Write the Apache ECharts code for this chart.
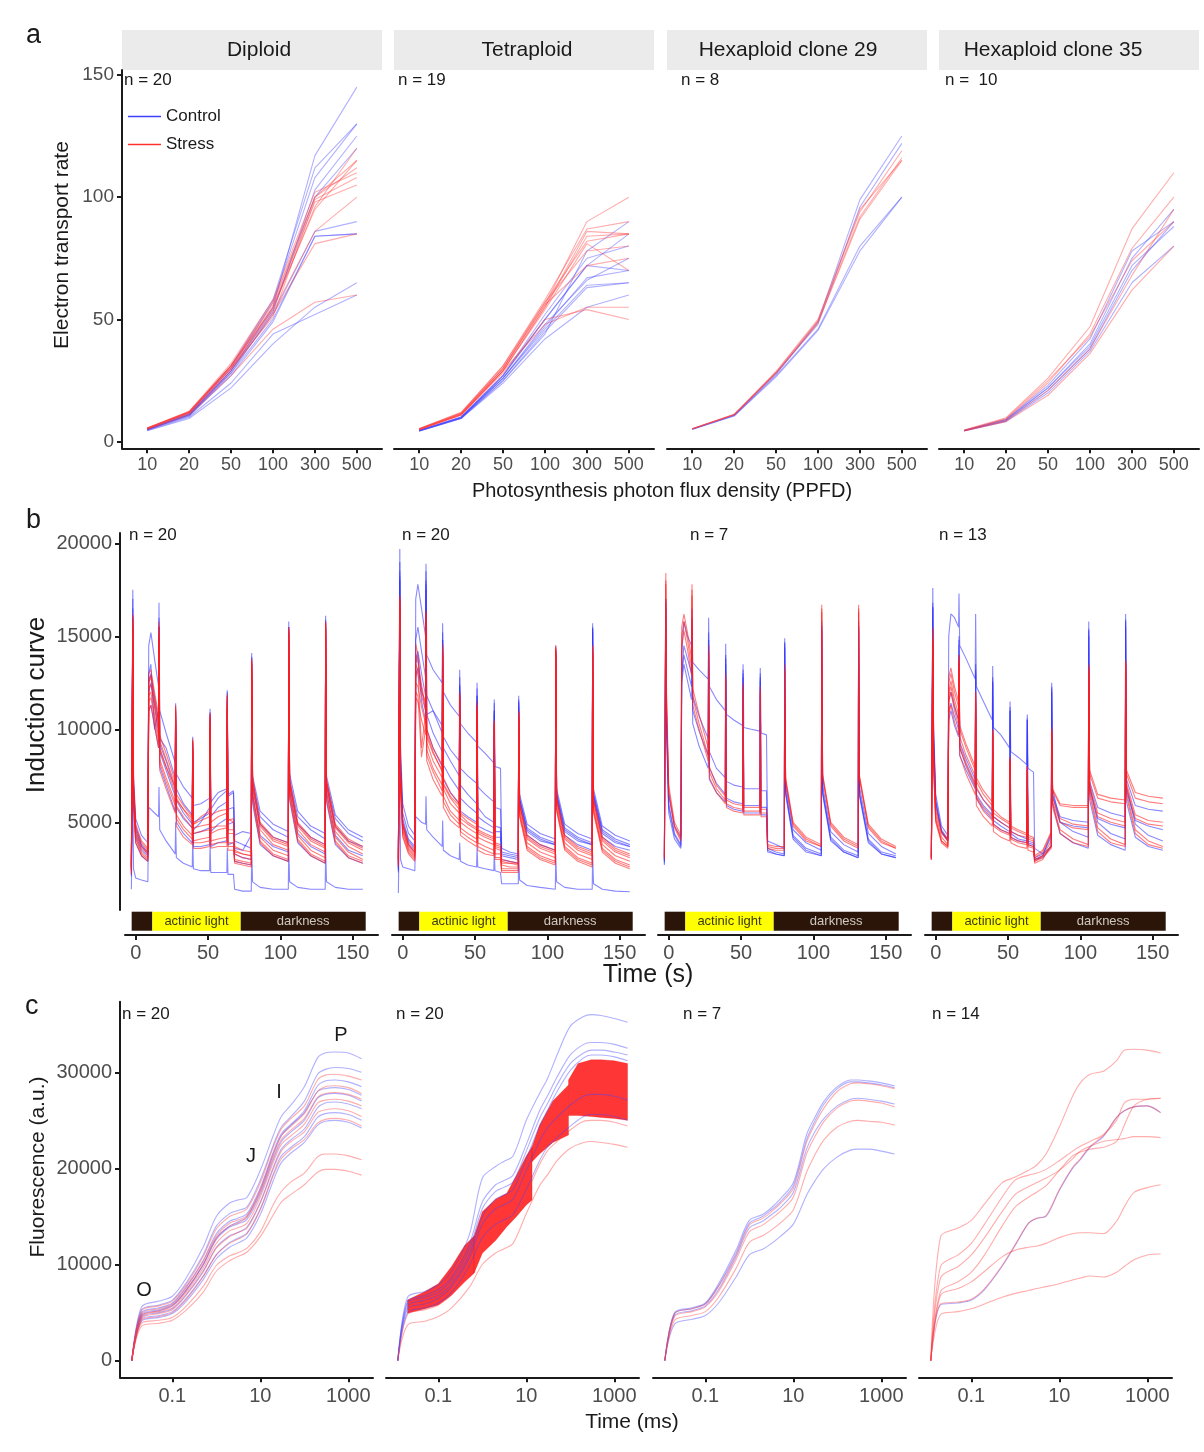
<!DOCTYPE html>
<html><head><meta charset="utf-8">
<script src="https://cdn.jsdelivr.net/npm/echarts@6/dist/echarts.min.js"></script>
<style>html,body{margin:0;padding:0;background:#fff}#c{width:1204px;height:1452px}</style>
</head><body><div id="c"></div>
<script>
// ---------------- DATA ----------------
const panelNames = ['Diploid', 'Tetraploid', 'Hexaploid clone 29', 'Hexaploid clone 35'];
const nEtr = ['n = 20', 'n = 19', 'n = 8', 'n =  10'];
const nInd = ['n = 20', 'n = 20', 'n = 7', 'n = 13'];
const nOjip = ['n = 20', 'n = 20', 'n = 7', 'n = 14'];
const ppfdLabels = ['10', '20', '50', '100', '300', '500'];
const etrTicks = [0, 50, 100, 150];
const indTicks = [5000, 10000, 15000, 20000];
const indXTicks = [0, 50, 100, 150];
const ojipTicks = [0, 10000, 20000, 30000];
const ojipXTicks = [0.1, 10, 1000];

// (a) Electron transport rate at each PPFD level
const etrDiploidControl = [
  [5.0, 11, 29, 55, 117, 145], [5.2, 11.5, 30, 57, 108, 130], [4.8, 10.5, 28, 53, 103, 125],
  [5.0, 11, 29, 52, 86, 90], [5.0, 11, 28, 50, 84, 85], [4.5, 9.5, 22, 40, 55, 65],
  [4.6, 10, 24, 44, 52, 60], [5.3, 11.5, 31, 58, 112, 130], [5.1, 11, 29, 54, 100, 120],
  [4.9, 10.5, 27, 49, 84, 85]];
const etrDiploidStress = [
  [5.5, 12, 31, 57, 100, 115], [5.6, 12.3, 32, 58, 102, 110], [5.4, 12, 30, 55, 98, 105],
  [5.5, 12, 31, 54, 96, 120], [5.3, 11.7, 30, 53, 86, 100], [5.2, 11.5, 29, 52, 81, 85],
  [5.0, 11, 27, 46, 57, 60], [5.6, 12.4, 31, 56, 100, 112], [5.4, 12, 30, 51, 99, 108],
  [5.5, 12.1, 31, 55, 95, 115]];
const etrTetraControl = [
  [4.5, 9.8, 27, 50, 72, 85], [4.6, 10, 26, 48, 66, 75], [4.4, 9.6, 25, 45, 63, 65],
  [4.7, 10.2, 27, 52, 75, 80], [4.5, 9.8, 26, 47, 67, 70], [4.3, 9.5, 24, 42, 55, 60],
  [4.6, 10, 27, 50, 72, 70], [4.5, 9.7, 26, 46, 64, 65], [4.4, 9.5, 25, 44, 78, 90]];
const etrTetraStress = [
  [5.2, 11.5, 30, 56, 90, 100], [5.4, 12, 31, 58, 87, 90], [5.0, 11, 29, 55, 84, 85],
  [5.1, 11.4, 30, 57, 82, 85], [5.2, 11.6, 30, 56, 72, 75], [5.0, 11, 29, 54, 81, 70],
  [4.9, 10.8, 28, 50, 54, 50], [5.0, 11, 29, 48, 55, 55], [5.1, 11.2, 29, 55, 86, 85],
  [5.3, 11.8, 31, 57, 78, 80]];
const etrHex29Control = [
  [5.2, 10.8, 27.5, 49, 99, 125], [5.1, 10.6, 27, 46, 80, 100],
  [5.2, 10.9, 28, 48, 96, 122], [5.0, 10.5, 26.5, 45.5, 78, 100]];
const etrHex29Stress = [
  [5.3, 11, 28.5, 49.5, 94, 119], [5.3, 11.1, 28, 48.5, 91, 115],
  [5.2, 11, 28, 49, 92, 116], [5.3, 11.2, 28.7, 50, 95, 115]];
const etrHex35Control = [
  [4.6, 9, 22, 40, 75, 95], [4.5, 8.5, 21, 38, 70, 90], [4.7, 9.2, 23, 42, 78, 90],
  [4.4, 8.3, 20, 37, 65, 80], [4.5, 8.8, 22, 39, 72, 88]];
const etrHex35Stress = [
  [4.8, 9.8, 26, 47, 87, 110], [4.6, 9.2, 24, 44, 79, 100], [4.5, 8.6, 21, 38, 68, 95],
  [4.4, 8.2, 19, 36, 62, 80], [4.7, 9.5, 25, 43, 74, 90]];

// (b) Induction curves, sampled at indTime (s)
const indTime = [-3, -2, -1.5, 0, 4, 8.4, 9, 10.5, 13, 15.8, 16.1, 16.6, 21, 27.3, 27.6, 28.1, 33, 39.1, 39.4, 39.9,
  45, 51.1, 51.4, 51.9, 57, 63, 63.3, 63.8, 67.6, 68.4, 74, 79.9, 80.2, 80.8, 86, 95, 105.5, 105.8, 106.4, 112,
  121, 131, 131.3, 131.9, 138, 147, 157];
const indDiploidControl = [
  [2600,17500,7500,5200,4300,3900,14500,15200,13800,12300,16800,11000,9800,8200,11400,7600,6900,6300,9600,5900,6000,6300,11100,6100,6600,6800,12100,6500,6700,4000,3800,3600,14100,7500,5600,4900,4500,15800,7600,5600,4800,4400,16100,7500,5400,4600,4200],
  [2200,17000,7000,4800,3800,3400,13000,13500,10000,11000,16000,9500,9000,7400,11000,6800,6000,5400,9300,5000,5200,5500,10800,5300,5800,6100,11800,5700,5800,3600,3500,4300,13800,6800,4900,4200,3900,15500,7000,4900,4200,3800,15800,6900,4800,4000,3700],
  [2400,16500,6500,4300,3500,3200,12000,12500,11200,9800,15500,8800,7800,6400,10500,5800,5200,4700,9000,4400,4500,4700,10500,4500,4900,5200,11500,4900,5000,3300,3100,3000,13500,6500,4300,3700,3400,15200,6700,4400,3700,3300,15500,6600,4300,3500,3200],
  [2100,15500,5800,3900,3200,2900,11000,11300,10200,9000,14800,8000,7000,5600,10000,5000,4400,3900,8700,3700,3700,3800,10000,3700,3900,4000,11000,3800,3900,2900,2800,2700,13000,6000,3800,3200,2900,14800,6200,3900,3200,2800,15000,6100,3800,3100,2800],
  [2500,16000,6800,4600,3700,3300,12500,13000,11800,10500,15500,9200,8300,6800,10800,6200,5500,4900,9200,4600,5000,5800,10900,5700,6300,6700,12000,6400,6600,4300,4500,4400,13900,7200,5300,4600,4200,15500,7300,5300,4600,4100,15900,7200,5200,4400,4000],
  [1400,7000,2500,2000,1900,1800,5800,5700,5500,5300,6900,4600,4000,3300,5000,3100,2800,2600,4200,2500,2400,2400,3800,2300,2300,2300,3600,2200,2200,1400,1300,1300,3500,1800,1500,1400,1400,3600,1800,1500,1400,1400,3600,1800,1500,1400,1400]];
const indDiploidStress = [
  [2500,16000,6800,4500,3700,3400,12500,12800,11500,10200,15500,9000,8000,6600,11000,5900,5300,4700,9300,4400,4500,4600,10600,4400,4600,4700,11600,4400,4400,3300,3100,3000,13500,7000,4600,3800,3500,15300,7000,4600,3800,3400,15600,7000,4500,3700,3300],
  [2300,15500,6400,4200,3400,3100,11800,12000,10800,9600,15000,8400,7400,6100,10700,5400,4800,4300,9000,4000,4100,4200,10300,4000,4100,4200,11300,3900,3900,3000,2900,2800,13200,6600,4200,3500,3200,15000,6700,4300,3500,3100,15300,6700,4200,3400,3000],
  [2700,16200,7200,4900,4000,3600,13000,13200,12000,10800,15800,9700,8700,7200,11200,6500,5900,5300,9500,4900,5100,5300,10900,5000,5300,5500,11900,5100,5200,3700,3500,3400,13800,7400,5000,4200,3900,15500,7300,5000,4200,3800,15800,7300,4900,4100,3700],
  [2200,15000,6000,3900,3200,2900,11000,11300,10200,9000,14500,7800,6800,5500,10300,4800,4200,3800,8800,3600,3600,3700,10100,3600,3700,3700,11100,3500,3500,2800,2700,2600,13000,6200,3900,3200,2900,14800,6300,4000,3200,2800,15100,6200,3900,3100,2800],
  [2600,15800,6600,4400,3600,3300,12200,12400,11300,10000,15200,8900,8000,6900,11100,6200,5700,5200,9400,4900,5300,5600,10800,5400,5600,5700,11800,5200,5000,3500,3300,3200,13600,7100,4800,4000,3700,15400,7100,4800,4000,3600,15700,7100,4700,3900,3500],
  [2400,15300,6300,4100,3300,3000,11500,11700,10600,9300,14800,8200,7200,5900,10500,5200,4600,4100,8900,3900,3900,4000,10200,3800,3900,3900,11200,3700,3700,2900,2800,2700,13300,6400,4000,3300,3000,15100,6500,4100,3300,2900,15400,6400,4000,3200,2900],
  [2800,16100,7000,4700,3900,3500,12700,12900,11600,10400,15600,9400,8400,7000,11300,6300,5700,5000,9400,4700,4800,4900,10700,4700,4800,4800,11700,4600,4600,3400,3300,3200,13700,7200,4900,4100,3800,15400,7200,4900,4100,3700,15700,7200,4800,4000,3600]];
const indTetraControl = [
  [2800,19700,9000,6000,4800,4300,17000,17800,16500,15000,18900,14000,13200,12500,15700,12000,11300,10700,13200,10300,9800,9300,12500,9100,8700,8200,11600,8000,7900,3600,3400,3300,11800,6500,4900,4400,4100,14500,6800,4900,4400,4100,15700,6800,4800,4300,4000],
  [2600,19000,8500,5500,4400,4000,14800,15500,14200,12800,18500,11800,11000,10200,15200,9600,8900,8300,12800,7900,7500,7100,12200,6900,6500,6100,11400,5800,5700,3400,3300,3200,11600,6300,4700,4200,3900,14300,6600,4700,4200,3900,15500,6600,4600,4100,3800],
  [2500,18500,8000,5200,4100,3700,13500,14000,11500,10500,18000,10800,11000,9800,14800,9000,8300,7500,12400,7000,6500,6000,11800,5800,5300,5000,11000,4800,4700,3300,3200,3100,11400,6200,4600,4100,3800,14200,6500,4600,4100,3800,15400,6500,4500,4000,3700],
  [2300,18000,7500,4800,3800,3400,12800,13300,12200,11000,17500,10000,9000,8000,14500,7300,6600,6000,12000,5600,5300,5000,11500,4800,4600,4400,10800,4200,4200,3000,2900,2800,11200,6000,4300,3800,3500,14000,6300,4300,3800,3500,15200,6300,4200,3700,3500],
  [2400,18200,7800,5000,4000,3600,13800,14200,13000,11800,17800,10800,9800,8800,14800,8100,7400,6700,12300,6300,5900,5500,11800,5300,5000,4700,11000,4500,4500,3200,3100,3000,11500,6200,4500,4000,3800,14200,6400,4500,4000,3800,15400,6400,4400,3900,3700],
  [1200,7000,3000,2600,2500,2400,5300,5200,5000,4900,6400,4600,4200,3700,5100,3500,3200,3000,3900,2900,2700,2600,3700,2600,2500,2400,3500,2400,2300,1700,1700,1700,3500,1900,1600,1500,1400,3300,1800,1500,1400,1400,3300,1700,1400,1300,1270]];
const indTetraStress = [
  [3000,17000,7500,4800,3700,3300,14600,14000,12000,11500,16400,10000,9000,8100,14600,7400,6600,6000,12000,5500,5200,4900,11500,4600,4400,4200,10500,3900,3800,3000,2900,2800,11000,6000,4200,3700,3400,14500,6300,4200,3600,3300,14500,6200,4100,3500,3200],
  [2800,16800,7200,4500,3500,3100,13500,13200,9000,10800,16000,9300,8300,7400,14200,6800,6000,5500,11800,5000,4700,4400,11200,4200,4000,3800,10300,3600,3500,2700,2600,2600,10800,5700,3900,3400,3100,14300,6000,3900,3300,3000,14300,5900,3800,3200,2900],
  [2700,16500,7000,4300,3400,3000,12500,12300,11200,10300,15800,8900,7900,7000,14000,6400,5600,5100,11600,4700,4400,4100,11000,3900,3700,3500,10200,3300,3300,2500,2500,2500,10700,5500,3700,3200,2900,14200,5800,3700,3100,2800,14200,5700,3600,3000,2700],
  [2900,16900,7300,4600,3600,3200,12000,11800,8500,10000,15700,8600,7700,6700,13900,6100,5400,4900,11500,4500,4200,3900,10900,3700,3500,3300,10100,3100,3100,2400,2400,2400,10600,5400,3600,3100,2800,14100,5700,3600,3000,2700,14100,5600,3500,2900,2600],
  [3100,17200,7700,5000,3900,3500,13200,13000,11800,11000,16200,9600,8700,7800,14400,7000,6300,5700,11900,5200,4900,4600,11300,4400,4200,4000,10400,3700,3600,2800,2800,2700,10900,5900,4100,3600,3300,14400,6200,4100,3500,3200,14400,6100,4000,3400,3100],
  [2600,16400,6800,4200,3300,2900,11700,11500,10500,9700,15500,8300,7300,6400,13700,5800,5100,4700,11300,4300,4000,3700,10800,3500,3300,3200,10000,3000,3000,2300,2300,2300,10500,5300,3500,3000,2700,14000,5600,3500,2900,2600,14000,5500,3400,2800,2500],
  [3000,17100,7600,4900,3800,3400,14000,13600,12400,11200,16300,9800,8800,7700,14300,7100,6400,5900,11800,5400,5000,4700,11300,4500,4300,4100,10400,3800,3700,2900,2800,2800,10900,6000,4300,3800,3500,14400,6300,4300,3700,3400,14500,6200,4200,3600,3300]];
const indHex29Control = [
  [3000,17000,11000,6500,4800,4200,14000,15800,15000,14500,16500,13600,13200,12700,16000,12300,11600,11000,14600,10800,10500,10200,13500,10100,10000,9900,13300,9800,9700,4000,3800,3600,14900,7000,4600,3900,3500,15800,7000,4500,3800,3400,15800,6900,4400,3700,3300],
  [2900,17000,10500,6000,4400,3800,13000,14500,13800,13000,16000,11800,10700,9500,15200,8800,7900,7400,14000,7200,7000,6900,13200,6800,6800,6800,13000,6700,6700,3600,3400,3300,14700,6700,4300,3600,3300,15600,6700,4200,3500,3200,15600,6600,4100,3400,3200],
  [2800,16800,10200,5800,4300,3700,12800,14000,13200,12300,15800,11000,9900,8600,14800,7900,7100,6500,13800,6300,6100,6000,13000,5900,5900,5900,12800,5800,5800,3500,3300,3200,14600,6600,4200,3500,3200,15500,6600,4100,3400,3100,15500,6500,4000,3300,3100],
  [2700,16500,9800,5500,4100,3600,12500,13500,12600,11600,15500,10300,9100,7900,14500,7300,6600,6100,13500,5900,5700,5600,12800,5500,5500,5500,12600,5400,5400,3400,3300,3200,14400,6500,4100,3400,3200,15300,6500,4000,3400,3100,15300,6400,3900,3300,3100]];
const indHex29Stress = [
  [3200,18400,12000,7000,5000,4300,15500,16200,15200,13800,17800,12200,10800,9000,14500,8000,7000,6400,13000,6200,6000,5900,12500,5800,5800,5800,12300,5700,5700,3800,3700,3700,13500,7400,5000,4200,3800,16700,7600,5000,4200,3800,16700,7500,4900,4100,3700],
  [3100,18000,11500,6700,4800,4100,15000,15800,14800,13300,17500,11700,10300,8600,14200,7700,6800,6200,12800,6000,5800,5700,12300,5600,5600,5600,12100,5500,5500,3700,3600,3600,13300,7300,4900,4100,3700,16500,7500,4900,4100,3700,16500,7400,4800,4000,3600],
  [3000,17800,11200,6500,4700,4000,14500,15300,14300,12900,17200,11300,10000,8300,14000,7400,6600,6000,12600,5800,5600,5500,12100,5400,5400,5400,11900,5300,5300,3600,3500,3500,13100,7200,4800,4000,3700,16300,7400,4800,4000,3600,16300,7300,4700,3900,3600]];
const indHex35Control = [
  [3100,17600,10500,6500,4800,4300,15000,16200,16000,15500,17300,14500,13800,12700,16200,12300,11500,10500,13400,10100,9700,9000,11500,8800,8500,8100,10800,7900,7700,3600,3300,3700,12500,6800,5000,4500,4200,15800,7000,5000,4400,4100,16200,6900,4900,4300,4000],
  [3100,16500,9500,6000,4500,4000,10500,11000,10200,9600,14500,8600,7800,6800,13000,6300,5700,5200,12500,4900,4600,4400,11000,4200,4000,3900,10500,3800,3700,3000,3100,3700,12000,6000,4400,3900,3600,15000,6200,4300,3800,3500,15500,6100,4200,3700,3500],
  [3200,16800,9800,6200,4600,4100,11500,12000,11200,10500,15000,9300,8400,7300,13500,6800,6200,5600,12800,5300,5000,4700,11200,4500,4300,4100,10600,4000,3900,3100,3300,4200,12200,6400,5000,4800,4700,15300,6800,5200,4900,4700,15800,6700,5100,4800,4600],
  [3100,16600,9600,6100,4500,4000,11000,11400,10700,10000,14800,9000,8100,7000,13200,6500,5900,5400,12600,5100,4800,4500,11000,4400,4100,4000,10500,3900,3800,3000,3200,4400,12300,6500,5300,5100,5000,15400,7200,5800,5500,5300,15900,7300,5900,5700,5600]];
const indHex35Stress = [
  [3100,15500,9000,5800,4500,4100,12500,13000,12000,11200,14000,10000,9000,7800,12000,7200,6500,5900,10000,5500,5200,4900,8500,4700,4500,4300,8000,4200,4100,3200,3500,4500,10100,6800,6000,5900,5900,13500,7800,6500,6300,6200,13700,7800,6600,6400,6300],
  [3100,15300,8800,5600,4400,4000,12000,12600,11600,10800,13800,9600,8600,7500,11800,6900,6200,5700,9900,5300,5000,4700,8400,4500,4300,4200,7900,4100,4000,3100,3400,4400,10000,6700,5900,5800,5800,13400,7600,6300,6100,6000,13600,7600,6300,6100,6000],
  [3000,15000,8500,5400,4200,3800,11500,12000,11000,10200,13500,9000,8000,6900,11500,6300,5600,5100,9700,4800,4500,4300,8300,4100,3900,3800,7800,3700,3600,2900,3200,4000,9800,6300,5200,4900,4800,13200,7100,5500,5200,5000,13500,7100,5400,5100,5000],
  [3000,14800,8200,5200,4000,3700,10800,11300,10400,9700,13200,8600,7600,6500,11300,5900,5300,4800,9600,4500,4200,4000,8200,3900,3700,3600,7700,3500,3400,2800,3000,3800,9700,6100,5000,4700,4600,13100,6900,5300,5000,4800,13400,6900,5200,4900,4800],
  [3000,14500,8000,5000,3900,3600,11800,12300,11300,10500,13600,9200,8200,7100,11600,6400,5800,5300,9800,4900,4600,4400,8300,4200,4000,3900,7800,3800,3700,2900,3100,3600,9600,5800,4400,3900,3700,13000,6500,4500,3900,3700,13300,6400,4400,3800,3600],
  [3000,14700,8100,5100,4000,3700,12800,13300,12300,11500,14000,10200,9200,8000,12000,7400,6700,6100,10000,5700,5300,5000,8500,4800,4600,4400,8000,4300,4200,3000,3200,3700,9900,6000,4600,4100,3800,13300,6700,4700,4100,3800,13600,6600,4600,4000,3700]];
// light protocol bar under the induction panels (s)
const phaseStart = [-2.8, 11.5, 72.6];
const phaseEnd = [11.5, 72.6, 159];
const phaseLabel = ['', 'actinic light', 'darkness'];
const phaseFill = ['#2b1508', '#ffff00', '#2b1508'];
const phaseText = ['#ffffff', '#3b3b10', '#cfc8c0'];

// (c) OJIP fluorescence rise, sampled at ojipTime (ms)
const ojipTime = [0.012, 0.02, 0.05, 0.1, 0.2, 0.5, 1, 2, 3, 5, 10, 20, 30, 50, 100, 200, 300, 500, 1000, 2000];
const ojipDiploidControl = [
  [0,5600,6200,6700,8500,11800,15000,16400,16700,17000,19800,23500,25400,26600,28500,31500,32000,32100,32000,31400],
  [0,5300,5800,6300,8000,11000,14000,15300,15600,16000,18800,22500,24300,25400,27000,29800,30300,30500,30400,30000],
  [0,5000,5500,6000,7600,10400,13200,14500,14800,15300,18000,21800,23600,24600,26000,28600,29100,29200,29000,28500],
  [0,4700,5200,5700,7200,9900,12600,13900,14200,14700,17300,21000,22800,23800,25000,27300,27700,27800,27600,27000],
  [0,4500,5000,5400,6800,9300,11800,13000,13300,13900,16500,20200,22000,23000,24100,26300,26800,26900,26700,26200],
  [0,4300,4700,5100,6400,8800,11000,12300,12700,13300,15800,19500,21300,22200,23300,25300,25700,25800,25600,25000],
  [0,4800,5300,5800,7300,10000,12800,14000,14400,15000,17700,21500,23400,24500,25800,28000,28300,28400,28200,27600],
  [0,4100,4500,4900,6100,8400,10600,11800,12200,12800,15200,18800,20600,21600,22700,24500,24900,25000,24800,24200]];
const ojipDiploidStress = [
  [0,5200,5700,6200,7800,10800,13700,15000,15300,15800,18500,22300,24100,25200,26500,29200,29700,29800,29600,29200],
  [0,4900,5400,5900,7500,10300,13000,14300,14600,15100,17800,21600,23400,24400,25700,28000,28500,28600,28400,27800],
  [0,4700,5200,5700,7200,10000,12700,14000,14300,14900,17500,21200,23000,24000,25200,27400,27800,27900,27700,27200],
  [0,4600,5100,5500,7000,9600,12200,13500,13800,14300,17000,20700,22500,23400,24600,26800,27100,27200,27000,26500],
  [0,4400,4900,5300,6700,9200,11700,12900,13300,13800,16400,20000,21800,22800,23800,25800,26100,26200,26000,25400],
  [0,4200,4600,5000,6300,8700,11000,12200,12600,13200,15700,19300,21000,22000,23000,24700,25100,25200,25000,24400],
  [0,3900,4200,4500,5600,7700,9900,10900,11200,11700,13400,16300,17600,18600,19500,21200,21500,21500,21300,20900],
  [0,3600,3900,4200,5200,7100,9300,10400,10800,11300,12900,15200,16500,17300,18300,19600,19900,19900,19700,19300]];
const ojipTetraControl = [
  [0,6600,7200,7900,9300,13000,19000,20200,20700,21300,25000,27800,29300,31800,34800,35800,36000,35900,35600,35200],
  [0,6200,6800,7400,8700,12000,16500,18300,18700,19300,22500,26000,27500,29500,31800,32900,33100,33100,32900,32500],
  [0,6000,6600,7100,8400,11500,15800,17600,18000,18600,21800,25200,26700,28700,30900,32000,32300,32300,32100,31800],
  [0,5700,6300,6800,8000,11000,15000,16800,17200,17800,21000,24400,26000,28000,30200,31500,31800,31800,31600,31200],
  [0,5000,5500,6000,7100,9800,12800,14200,14600,15200,17800,20800,22200,23200,24400,25400,25600,25600,25400,25000],
  [0,5400,5900,6500,7700,10600,14200,15800,16200,16800,19800,22800,24200,25300,26600,27500,27700,27700,27500,27100]];
const ojipTetraStress = [
  [0,3700,4100,4600,5500,7600,10000,11200,11600,12200,15300,18200,19300,20800,22100,22700,22800,22700,22500,22200],
  [0,4800,5300,5800,6900,9500,12400,13900,14300,14900,17400,20400,21800,22800,24000,24900,25000,25000,24800,24400]];
// dense red bundles in the tetraploid panel: [time ms, lower, upper]
const ojipTetraBands = [
  [[0.02,4930,6310],[0.05,5400,7200],[0.1,5800,8000],[0.2,6800,9800],[0.4,8200,12000],[0.65,9100,12970]],
  [[0.65,9100,12970],[1.0,11170,15500],[2,12500,16800],[3.6,13940,17410],[6,15000,19300],[10,16200,21300],[13.5,16720,22260]],
  [[13.5,20700,22260],[20,21500,24500],[40,22700,27000],[91,23480,28680]],
  [[91,25500,29200],[150,25500,30900],[300,25400,31300],[500,25300,31300],[1000,25200,31200],[2000,25000,30900]]];
const ojipHex29Control = [
  [0,5000,5500,6000,8000,11500,14600,15200,15800,16800,18500,23500,25200,27000,28500,29200,29200,29100,28900,28600],
  [0,4900,5400,5900,7800,11200,14300,15000,15600,16500,18200,23000,24800,26700,28300,29000,29000,28900,28700,28400],
  [0,4700,5200,5700,7400,10800,13800,14500,15100,15900,17500,22000,23700,25200,26500,27200,27300,27200,27000,26700],
  [0,3800,4300,4700,6000,8700,11000,11600,12100,12900,14200,17200,18600,20000,21200,21900,22000,22000,21800,21500]];
const ojipHex29Stress = [
  [0,4900,5400,5900,7700,11000,14100,14800,15400,16300,17900,22700,24500,26300,28000,28800,28900,28800,28600,28300],
  [0,4600,5100,5600,7200,10500,13400,14100,14700,15500,17000,21500,23200,24900,26300,27000,27100,27000,26800,26400],
  [0,4200,4700,5100,6600,9600,12300,13000,13500,14300,15700,19600,21300,23000,24300,24900,25000,24900,24800,24500]];
const ojipHex35Control = [
  [0,5800,6000,6300,7400,9800,12000,14300,14800,15000,17700,20000,20900,22200,23300,25300,26000,26400,26500,25800]];
const ojipHex35Stress = [
  [0,12900,13800,14600,16300,18500,19100,19800,20300,21500,24300,27500,28900,29800,30100,31200,32300,32400,32300,32000],
  [0,9800,11000,12200,14200,17000,18800,19300,19500,19900,20800,21800,22300,22800,23500,25000,26800,27200,27200,27300],
  [0,8600,9800,11000,12800,15500,17300,18100,18500,19000,19800,21000,21800,22300,22800,23000,23100,23300,23300,23200],
  [0,5900,6100,6400,7500,9900,12100,14300,14800,15100,17800,20100,21000,22300,23400,25300,26000,26400,26500,25800],
  [0,7200,8200,9200,11000,14000,16000,17000,17500,18200,19800,21300,21700,22000,22200,22800,24500,26500,27200,27300],
  [0,6800,7500,8200,9300,10800,11500,11800,11900,12200,12800,13200,13300,13300,13200,14500,16000,17500,18000,18300],
  [0,4800,5100,5400,5900,6600,7000,7300,7500,7700,8000,8400,8600,8800,8700,9200,9800,10500,11000,11100]];

// ---------------- LAYOUT / STYLE ----------------
const FONT = '"Liberation Sans", Arial, Helvetica, sans-serif';
const AX = '#1a1a1a', LBL = '#4d4d4d';
const BLUE = 'rgba(50,50,255,0.58)', RED = 'rgba(255,30,30,0.58)';
const BLUE_C = 'rgba(70,70,255,0.42)', RED_C = 'rgba(255,60,60,0.42)';
const aLeft = [122, 394, 667, 939];
const bLeft = [125, 392, 658, 925];
const cLeft = [120, 386, 653, 919];
const plain = v => String(v);

const grids = [], xAxes = [], yAxes = [], series = [];

function axisBase(show) {
  return {
    axisLine: {show: show, onZero: false, lineStyle: {color: AX, width: 2}},
    splitLine: {show: false}
  };
}
function addGrid(g) { grids.push(g); return grids.length - 1; }

// Row a
const etrData = [[etrDiploidControl, etrDiploidStress], [etrTetraControl, etrTetraStress],
  [etrHex29Control, etrHex29Stress], [etrHex35Control, etrHex35Stress]];
etrData.forEach((pair, p) => {
  const gi = addGrid({left: aLeft[p], top: 70, width: 260, height: 378.3});
  xAxes.push(Object.assign(axisBase(true), {
    gridIndex: gi, type: 'value', min: -0.6, max: 5.6,
    axisTick: {show: true, length: 5, lineStyle: {color: AX, width: 2}, customValues: [0, 1, 2, 3, 4, 5]},
    axisLabel: {show: true, customValues: [0, 1, 2, 3, 4, 5], formatter: v => ppfdLabels[Math.round(v)],
      color: LBL, fontSize: 18, fontFamily: FONT, margin: 8}
  }));
  yAxes.push(Object.assign(axisBase(p === 0), {
    gridIndex: gi, type: 'value', min: -2.7, max: 152,
    axisTick: {show: p === 0, length: 5, lineStyle: {color: AX, width: 2}, customValues: etrTicks},
    axisLabel: {show: p === 0, customValues: etrTicks, formatter: plain, color: LBL, fontSize: 19, fontFamily: FONT, margin: 8}
  }));
  [[pair[0], BLUE_C], [pair[1], RED_C]].forEach(([set, col]) => {
    set.forEach(vals => series.push({
      type: 'line', xAxisIndex: gi, yAxisIndex: gi, silent: true, symbol: 'none',
      lineStyle: {color: col, width: 1.1},
      data: vals.map((v, i) => [i, v])
    }));
  });
});

// Row b
const indData = [[indDiploidControl, indDiploidStress], [indTetraControl, indTetraStress],
  [indHex29Control, indHex29Stress], [indHex35Control, indHex35Stress]];
indData.forEach((pair, p) => {
  const gi = addGrid({left: bLeft[p], top: 533, width: 253, height: 377});
  xAxes.push(Object.assign(axisBase(false), {
    gridIndex: gi, type: 'value', min: -7.4, max: 167.5, show: false
  }));
  yAxes.push(Object.assign(axisBase(p === 0), {
    gridIndex: gi, type: 'value', min: 285, max: 20554, offset: p === 0 ? 5 : 0, show: p === 0,
    axisTick: {show: p === 0, length: 5, lineStyle: {color: AX, width: 2}, customValues: indTicks},
    axisLabel: {show: p === 0, customValues: indTicks, formatter: plain, color: LBL, fontSize: 20, fontFamily: FONT, margin: 8}
  }));
  [[pair[0], BLUE], [pair[1], RED]].forEach(([set, col]) => {
    set.forEach(vals => series.push({
      type: 'line', xAxisIndex: gi, yAxisIndex: gi, silent: true, symbol: 'none',
      lineStyle: {color: col, width: 1.1},
      data: vals.map((v, i) => [indTime[i], v])
    }));
  });
});
// Row b protocol bars with time axis
for (let p = 0; p < 4; p++) {
  const gi = addGrid({left: bLeft[p], top: 905, width: 253, height: 30});
  xAxes.push(Object.assign(axisBase(true), {
    gridIndex: gi, type: 'value', min: -7.4, max: 167.5,
    axisTick: {show: true, length: 5, lineStyle: {color: AX, width: 2}, customValues: indXTicks},
    axisLabel: {show: true, customValues: indXTicks, formatter: plain, color: LBL, fontSize: 20, fontFamily: FONT, margin: 8}
  }));
  yAxes.push({gridIndex: gi, type: 'value', min: 0, max: 1, show: false, splitLine: {show: false}});
  series.push({
    type: 'custom', xAxisIndex: gi, yAxisIndex: gi, silent: true,
    data: phaseStart.map((s, i) => [s, phaseEnd[i], i]),
    renderItem: (params, api) => {
      const k = api.value(2);
      const a = api.coord([api.value(0), 0.777]);
      const b = api.coord([api.value(1), 0.143]);
      const children = [{type: 'rect', shape: {x: a[0], y: a[1], width: b[0] - a[0], height: b[1] - a[1]},
        style: {fill: phaseFill[k]}}];
      if (phaseLabel[k]) children.push({type: 'text', style: {text: phaseLabel[k], x: (a[0] + b[0]) / 2,
        y: (a[1] + b[1]) / 2 + 0.5, align: 'center', verticalAlign: 'middle', fill: phaseText[k],
        font: '13px ' + FONT}});
      return {type: 'group', children};
    }
  });
}

// Row c
const ojipData = [[ojipDiploidControl, ojipDiploidStress], [ojipTetraControl, ojipTetraStress],
  [ojipHex29Control, ojipHex29Stress], [ojipHex35Control, ojipHex35Stress]];
ojipData.forEach((pair, p) => {
  const gi = addGrid({left: cLeft[p], top: 1001.7, width: 253, height: 375.6});
  xAxes.push(Object.assign(axisBase(true), {
    gridIndex: gi, type: 'log', logBase: 10, min: 0.00647, max: 3640,
    axisTick: {show: true, length: 5, lineStyle: {color: AX, width: 2}, customValues: ojipXTicks},
    axisLabel: {show: true, customValues: ojipXTicks, formatter: v => (v < 1 ? '0.1' : String(Math.round(v))),
      color: LBL, fontSize: 20, fontFamily: FONT, margin: 9}
  }));
  yAxes.push(Object.assign(axisBase(p === 0), {
    gridIndex: gi, type: 'value', min: -1730, max: 37340, show: p === 0,
    axisTick: {show: p === 0, length: 5, lineStyle: {color: AX, width: 2}, customValues: ojipTicks},
    axisLabel: {show: p === 0, customValues: ojipTicks, formatter: plain, color: LBL, fontSize: 20, fontFamily: FONT, margin: 8}
  }));
  if (p === 1) {
    series.push({
      type: 'custom', xAxisIndex: gi, yAxisIndex: gi, silent: true,
      data: ojipTetraBands.map((b, i) => [b[0][0], i]),
      renderItem: (params, api) => {
        const band = ojipTetraBands[api.value(1)];
        const pts = band.map(r => api.coord([r[0], r[2]]))
          .concat(band.slice().reverse().map(r => api.coord([r[0], r[1]])));
        return {type: 'polygon', shape: {points: pts}, style: {fill: 'rgba(255,10,10,0.82)', stroke: 'rgba(230,0,0,0.5)', lineWidth: 0.5}};
      }
    });
  }
  [[pair[0], BLUE_C], [pair[1], RED_C]].forEach(([set, col]) => {
    set.forEach(vals => series.push({
      type: 'line', xAxisIndex: gi, yAxisIndex: gi, silent: true, symbol: 'none', smooth: 0.3,
      lineStyle: {color: col, width: 1.1},
      data: vals.map((v, i) => [ojipTime[i], v])
    }));
  });
});

// ---------------- TEXT / DECOR ----------------
const G = [];
function txt(text, x, y, size, opts) {
  G.push(Object.assign({type: 'text', x: x, y: y, silent: true,
    style: Object.assign({text: text, font: size + 'px ' + FONT, fill: '#1a1a1a', textAlign: 'left', textVerticalAlign: 'middle'}, (opts && opts.style) || {})},
    (opts && opts.el) || {}));
}
const stripCenters = [259, 527, 788, 1053];
aLeft.forEach((l, p) => {
  G.push({type: 'rect', silent: true, shape: {x: l, y: 30, width: 260, height: 40}, style: {fill: '#ebebeb'}});
  txt(panelNames[p], stripCenters[p], 50, 21, {style: {textAlign: 'center'}});
});
const nA = [124, 398, 681, 945], nB = [129, 402, 690, 939], nC = [122, 396, 683, 932];
for (let p = 0; p < 4; p++) {
  txt(nEtr[p], nA[p], 80, 17);
  txt(nInd[p], nB[p], 535, 17);
  txt(nOjip[p], nC[p], 1014, 17);
}
txt('a', 26, 36, 27);
txt('b', 26, 521, 27);
txt('c', 25, 1007, 27);
txt('Electron transport rate', 62, 245, 21, {style: {textAlign: 'center'}, el: {rotation: Math.PI / 2}});
txt('Photosynthesis photon flux density (PPFD)', 662, 491, 20, {style: {textAlign: 'center'}});
txt('Induction curve', 37, 705, 26, {style: {textAlign: 'center'}, el: {rotation: Math.PI / 2}});
txt('Time (s)', 648, 975, 25, {style: {textAlign: 'center'}});
txt('Fluorescence (a.u.)', 38, 1167, 21, {style: {textAlign: 'center'}, el: {rotation: Math.PI / 2}});
txt('Time (ms)', 632, 1422, 21, {style: {textAlign: 'center'}});
// legend
G.push({type: 'line', silent: true, shape: {x1: 128, y1: 116.5, x2: 161, y2: 116.5}, style: {stroke: '#4040ff', lineWidth: 1.6}});
G.push({type: 'line', silent: true, shape: {x1: 128, y1: 144.5, x2: 161, y2: 144.5}, style: {stroke: '#ff3030', lineWidth: 1.6}});
txt('Control', 166, 116.5, 17);
txt('Stress', 166, 144.5, 17);
// OJIP phase letters
txt('O', 144, 1290, 20, {style: {textAlign: 'center'}});
txt('J', 251, 1156, 20, {style: {textAlign: 'center'}});
txt('I', 279, 1092, 20, {style: {textAlign: 'center'}});
txt('P', 341, 1035, 20, {style: {textAlign: 'center'}});

const chart = echarts.init(document.getElementById('c'), null, {renderer: 'canvas'});
chart.setOption({
  animation: false,
  backgroundColor: '#ffffff',
  grid: grids, xAxis: xAxes, yAxis: yAxes, series: series,
  graphic: G
});
</script></body></html>
